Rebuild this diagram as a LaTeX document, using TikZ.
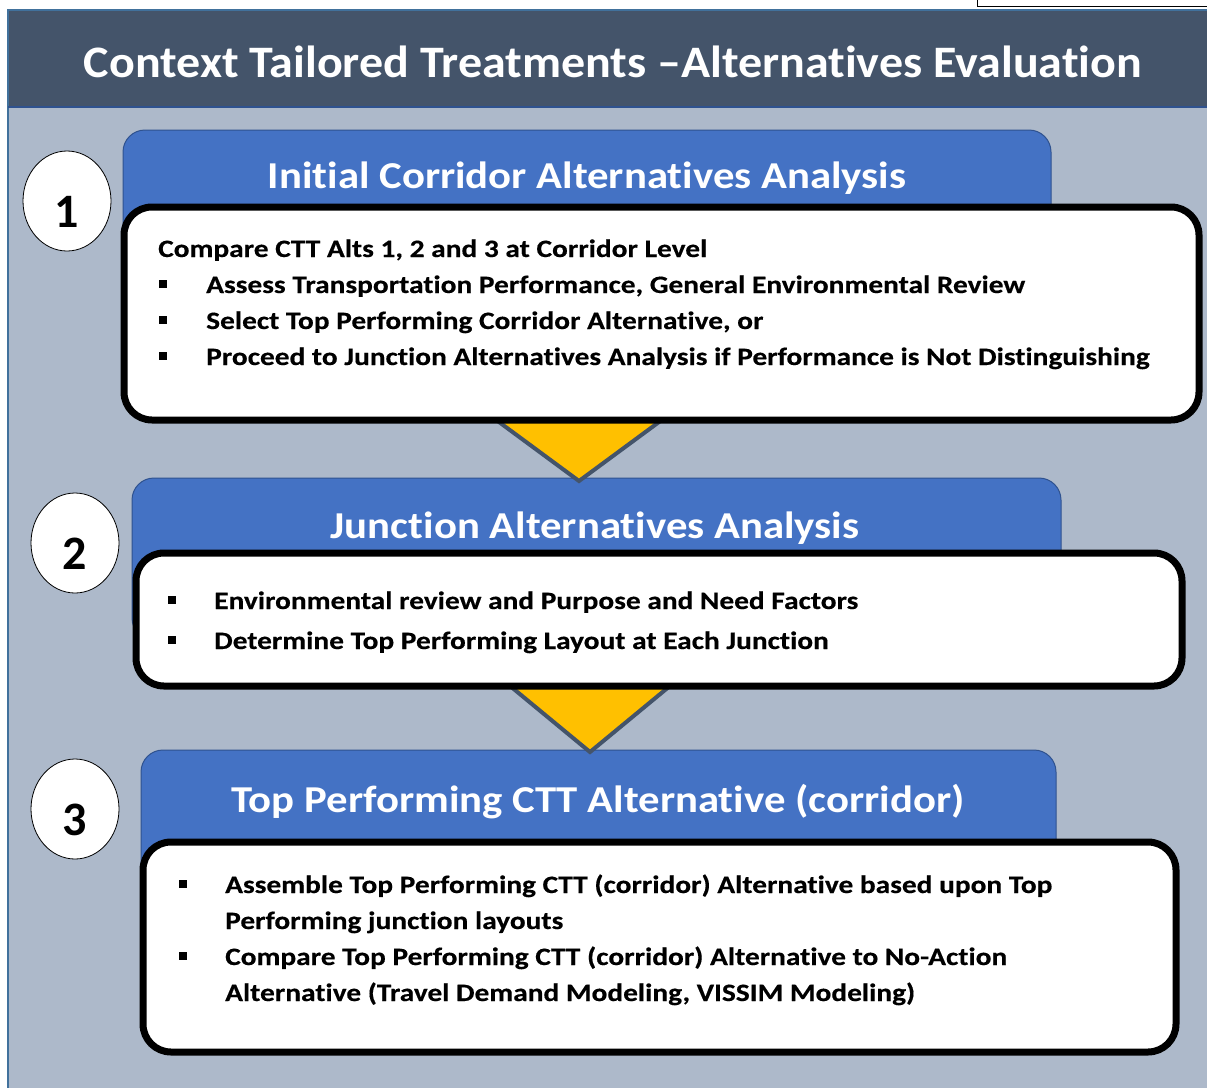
\documentclass[tikz,border=0pt]{standalone}
\usepackage{fontspec}
\setmainfont[RawFeature=-liga]{Carlito}
\newfontfamily\titlefont[FakeStretch=1.067, RawFeature=-liga]{Carlito}
\newfontfamily\headfont[FakeStretch=1.125, RawFeature=-liga]{Carlito}
\newfontfamily\bodyfont[FakeStretch=1.175, FakeBold=0.4, RawFeature=-liga]{Carlito}
\usetikzlibrary{shapes.geometric}
\definecolor{band}{HTML}{44546A}
\definecolor{panel}{HTML}{ADB9CA}
\definecolor{hblue}{HTML}{4472C4}
\definecolor{hborder}{HTML}{2F528F}
\definecolor{pborder}{HTML}{41719C}
\definecolor{gold}{HTML}{FFC000}
\tikzset{
  hdr/.style={fill=hblue, draw=hborder, line width=1pt, rounded corners=22pt},
  wbox/.style={fill=white, draw=black, line width=7pt, rounded corners=28pt},
  arrowtri/.style={fill=gold, draw=band, line width=4pt},
  numcirc/.style={ellipse, draw=black, fill=white, line width=0.8pt, minimum width=88pt, minimum height=100pt, inner sep=0pt, font=\fontsize{48}{48}\selectfont\bfseries},
  htext/.style={anchor=base, text=white, font=\headfont\fontsize{38}{40}\selectfont\bfseries, inner sep=0pt},
  btext/.style={anchor=base west, font=\bodyfont\fontsize{25}{28}\selectfont\bfseries, inner sep=0pt},
  bul/.style={fill=black, minimum size=7.5pt, inner sep=0pt, draw=none}
}
\begin{document}
\begin{tikzpicture}[x=1pt,y=-1pt]
\useasboundingbox (0,0) rectangle (1207,1087);
% top-right partial box
\draw[fill=white, draw=black, line width=1pt] (977,-20) rectangle (1215,6);
% panel
\fill[panel] (8,10) rectangle (1215,1100);
\fill[band] (8,10) rectangle (1215,107);
\draw[pborder, line width=1.5pt] (1215,10) -- (8,10) -- (8,1100);
\draw[hborder, line width=2pt] (8,107) -- (1215,107);
\node[anchor=base, text=white, font=\titlefont\fontsize{45}{50}\selectfont\bfseries, inner sep=0pt] (title) at (613,77) {Context Tailored Treatments –Alternatives Evaluation};
% headers
\draw[hdr] (123,320) rectangle (1051,130);
\draw[hdr] (132,640) rectangle (1061,478);
\draw[hdr] (141,950) rectangle (1056,750);
% triangles
\draw[arrowtri, line join=miter] (442,380) -- (716,380) -- (579,481) -- cycle;
\draw[arrowtri, line join=miter] (406,600) -- (774,600) -- (590,752) -- cycle;
% white boxes
\draw[wbox] (124,207) rectangle (1199,420);
\draw[wbox] (136,553) rectangle (1182,686);
\draw[wbox] (143,842) rectangle (1176,1052);
% header texts
\node[htext] (h1) at (587,188) {Initial Corridor Alternatives Analysis};
\node[htext] (h2) at (595,538) {Junction Alternatives Analysis};
\node[htext] (h3) at (598,812) {Top Performing CTT Alternative (corridor)};
% box 1 text
\node[btext] (t10) at (158,257) {Compare CTT Alts 1, 2 and 3 at Corridor Level};
\node[bul] (b11) at (163,284) {};
\node[btext] (t11) at (206,293) {Assess Transportation Performance, General Environmental Review};
\node[bul] (b12) at (163,320) {};
\node[btext] (t12) at (206,329) {Select Top Performing Corridor Alternative, or};
\node[bul] (b13) at (163,356) {};
\node[btext] (t13) at (206,365) {Proceed to Junction Alternatives Analysis if Performance is Not Distinguishing};
% box 2 text
\node[bul] (b21) at (172,600) {};
\node[btext] (t21) at (214,609) {Environmental review and Purpose and Need Factors};
\node[bul] (b22) at (172,640) {};
\node[btext] (t22) at (214,649) {Determine Top Performing Layout at Each Junction};
% box 3 text
\node[bul] (b31) at (183,884) {};
\node[btext] (t31) at (225,893) {Assemble Top Performing CTT (corridor) Alternative based upon Top};
\node[btext] (t32) at (225,929) {Performing junction layouts};
\node[bul] (b32) at (183,956) {};
\node[btext] (t33) at (225,965) {Compare Top Performing CTT (corridor) Alternative to No-Action};
\node[btext] (t34) at (225,1001) {Alternative (Travel Demand Modeling, VISSIM Modeling)};
% circles
\node[numcirc] (c1) at (67,201) {\raisebox{-26pt}[0pt][0pt]{1}};
\node[numcirc] (c2) at (75,543) {\raisebox{-26pt}[0pt][0pt]{2}};
\node[numcirc] (c3) at (75,809) {\raisebox{-26pt}[0pt][0pt]{3}};
\end{tikzpicture}
\end{document}
